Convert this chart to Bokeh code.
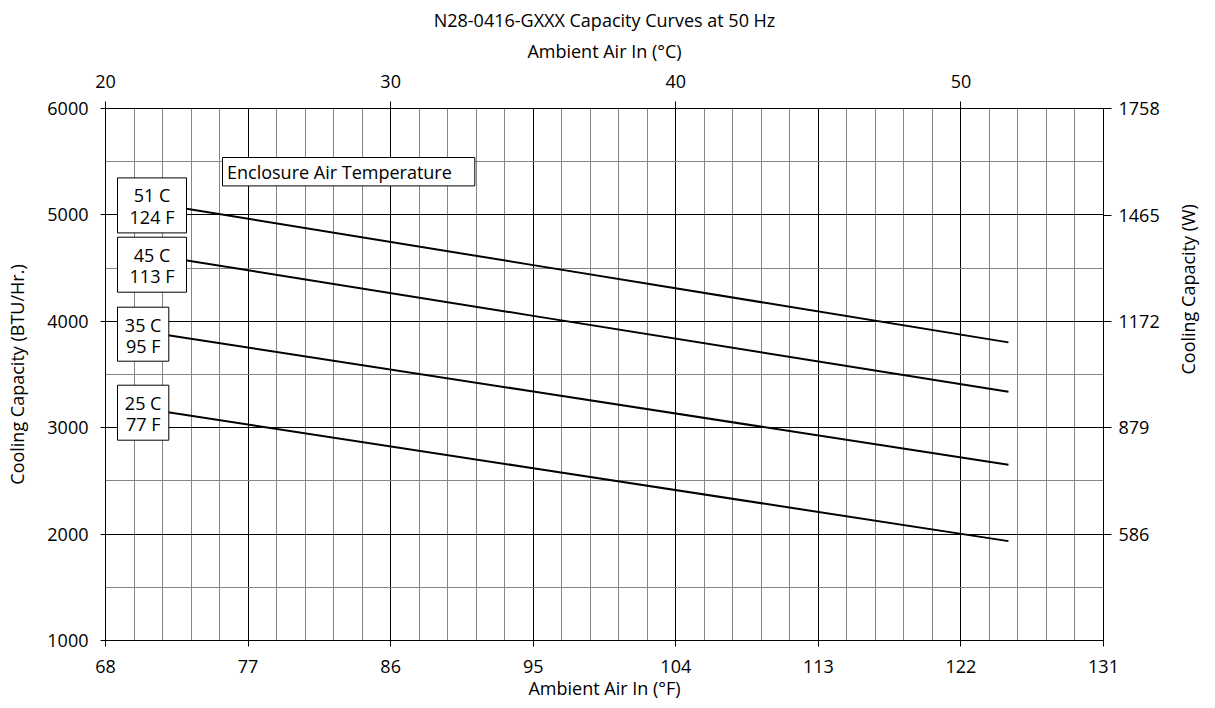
import math
from bokeh.plotting import figure
from bokeh.models import Range1d, LinearAxis, FixedTicker, Title
from bokeh.embed import file_html
from bokeh.resources import INLINE
from bokeh.core.properties import value

FONT = "Open Sans"

# ---- data ----
ambient_f = [70, 95, 125]            # Ambient Air In (°F)
cap_51c = [5133, 4528, 3802]         # BTU/Hr, enclosure 51 C / 124 F
cap_45c = [4646, 4051, 3337]         # enclosure 45 C / 113 F
cap_35c = [3914, 3340, 2651]         # enclosure 35 C / 95 F
cap_25c = [3190, 2619, 1934]         # enclosure 25 C / 77 F

series = [cap_51c, cap_45c, cap_35c, cap_25c]
labels_c = ["51 C", "45 C", "35 C", "25 C"]
labels_f = ["124 F", "113 F", "95 F", "77 F"]

f_ticks = [68, 77, 86, 95, 104, 113, 122, 131]
c_ticks = [20, 30, 40, 50]
btu_ticks = [1000, 2000, 3000, 4000, 5000, 6000]
w_ticks = [293, 586, 879, 1172, 1465, 1758]
BTU_TO_W = 0.29307107

X0, X1 = 68, 131
Y0, Y1 = 1000, 6000
W, H = 1215, 704
BL, BT = 105, 108
FW, FH = 998, 532

# helpers: frame-relative pixel -> data (for annotation placement)
def px(xp):
    return X0 + xp * (X1 - X0) / FW

def py(yp):
    return Y1 - yp * (Y1 - Y0) / FH

p = figure(width=W, height=H,
           x_range=Range1d(X0, X1), y_range=Range1d(Y0, Y1),
           output_backend="svg", toolbar_location=None,
           min_border_left=BL, min_border_right=W - BL - FW,
           min_border_top=BT, min_border_bottom=H - BT - FH)
p.background_fill_color = "white"
p.border_fill_color = "white"
p.outline_line_color = "black"
p.outline_line_width = 1

p.title = Title(text="N28-0416-GXXX Capacity Curves at 50 Hz", align="center",
                text_font=FONT, text_font_size="18px", text_font_style="normal",
                text_color="black", standoff=7)

# grids
minor_f = [X0 + 1.8 * i for i in range(36)]
minor_btu = [1500, 2500, 3500, 4500, 5500]
p.xgrid.ticker = FixedTicker(ticks=f_ticks, minor_ticks=minor_f)
p.ygrid.ticker = FixedTicker(ticks=btu_ticks, minor_ticks=minor_btu)
for g in (p.xgrid, p.ygrid):
    g.grid_line_color = "black"
    g.grid_line_width = 1
    g.grid_line_alpha = 1
    g.minor_grid_line_color = "#858585"
    g.minor_grid_line_width = 1

def style_axis(ax, tick_in=0, tick_out=6):
    ax.axis_line_color = "black"
    ax.major_tick_line_color = "black"
    ax.major_tick_in = tick_in
    ax.major_tick_out = tick_out
    ax.minor_tick_line_color = None
    ax.major_label_text_font = FONT
    ax.major_label_text_font_size = "18px"
    ax.major_label_text_color = "black"
    ax.axis_label_text_font = FONT
    ax.axis_label_text_font_size = "18px"
    ax.axis_label_text_font_style = "normal"
    ax.axis_label_text_color = "black"

# bottom (°F)
xb = p.xaxis[0]
xb.ticker = FixedTicker(ticks=f_ticks)
xb.axis_label = "Ambient Air In (°F)"
style_axis(xb, 0, 6)
xb.major_label_standoff = 13
xb.axis_label_standoff = 0

# left (BTU/Hr.)
yl = p.yaxis[0]
yl.ticker = FixedTicker(ticks=btu_ticks)
yl.axis_label = "Cooling Capacity (BTU/Hr.)"
style_axis(yl, 5, 5)
yl.major_label_standoff = 12
yl.axis_label_standoff = 15

# top (°C)
p.extra_x_ranges = {"c": Range1d((X0 - 32) / 1.8, (X1 - 32) / 1.8)}
xt = LinearAxis(x_range_name="c", ticker=FixedTicker(ticks=c_ticks),
                axis_label="Ambient Air In (°C)")
style_axis(xt, 0, 7)
xt.major_label_standoff = 14
xt.axis_label_standoff = 9
p.add_layout(xt, "above")

# right (W)
p.extra_y_ranges = {"w": Range1d(Y0 * BTU_TO_W, Y1 * BTU_TO_W)}
yr = LinearAxis(y_range_name="w", ticker=FixedTicker(ticks=w_ticks),
                axis_label="Cooling Capacity (W)")
style_axis(yr, 0, 8)
yr.major_label_standoff = 7
yr.axis_label_standoff = 25
yr.axis_label_orientation = math.pi / 2
p.add_layout(yr, "right")

# curves
for s in series:
    p.line(ambient_f, s, line_color="black", line_width=2)

# label boxes (frame-relative pixel boxes: left, right, top, bottom)
boxes = [(12, 81, 69.4, 124.4), (12, 81, 128.7, 183.7),
         (12, 63.3, 198.7, 252.7), (12, 63.3, 276.7, 331.7)]
p.quad(left=[px(b[0]) for b in boxes], right=[px(b[1]) for b in boxes],
       top=[py(b[2]) for b in boxes], bottom=[py(b[3]) for b in boxes],
       fill_color="white", line_color="black", line_width=1)
tx, ty, tt = [], [], []
for b, lc, lf in zip(boxes, labels_c, labels_f):
    cx = px((b[0] + b[1]) / 2)
    tx += [cx, cx]
    ty += [py(b[2] + 17.5), py(b[2] + 39)]
    tt += [lc, lf]
p.text(x=tx, y=ty, text=tt, text_font=value(FONT), text_font_size="18px",
       text_align="center", text_baseline="middle", text_color="black")

# "Enclosure Air Temperature" box
p.quad(left=[px(117)], right=[px(369.3)], top=[py(49)], bottom=[py(77.4)],
       fill_color="white", line_color="black", line_width=1)
p.text(x=[px(121.5)], y=[py(63.2)], text=["Enclosure Air Temperature"],
       text_font=value(FONT), text_font_size="18px",
       text_align="left", text_baseline="middle", text_color="black")

open("out.html", "w").write(file_html(p, INLINE))
